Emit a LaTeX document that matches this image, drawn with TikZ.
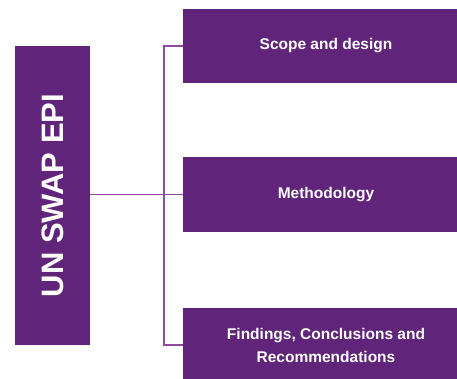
\documentclass[tikz,border=0pt]{standalone}
\usepackage{fontspec}
\setmainfont{Liberation Sans}
\usepackage{tikz}

\definecolor{unpurple}{RGB}{96,37,122}
\definecolor{linkpurple}{RGB}{142,75,160}

\begin{document}
\begin{tikzpicture}[x=1pt,y=1pt,
                main node/.style={fill=unpurple, text=white, inner sep=0pt, font=\fontsize{15.5}{23}\selectfont\bfseries},
                link/.style={draw=linkpurple, line width=1.6pt}]

            \useasboundingbox (0,0) rectangle (457,378);

            \node[main node, rotate=90, minimum width=299, minimum height=75, font=\fontsize{31}{31}\selectfont\bfseries] (epi) at (52.5,182.5) {UN SWAP EPI};
            \node[main node, minimum width=286, minimum height=74] (scope) at (326,332) {Scope and design};
            \node[main node, minimum width=286, minimum height=75] (method) at (326,183.5) {Methodology};
            \node[main node, minimum width=286, minimum height=74, align=center] (findings) at (326,33) {Findings, Conclusions and\\Recommendations};

            \path[link]
            (epi.south |- method.west) -- (method.west)
            (scope.west) -- ++(-19,0) |- (findings.west);

        \end{tikzpicture}
\end{document}
